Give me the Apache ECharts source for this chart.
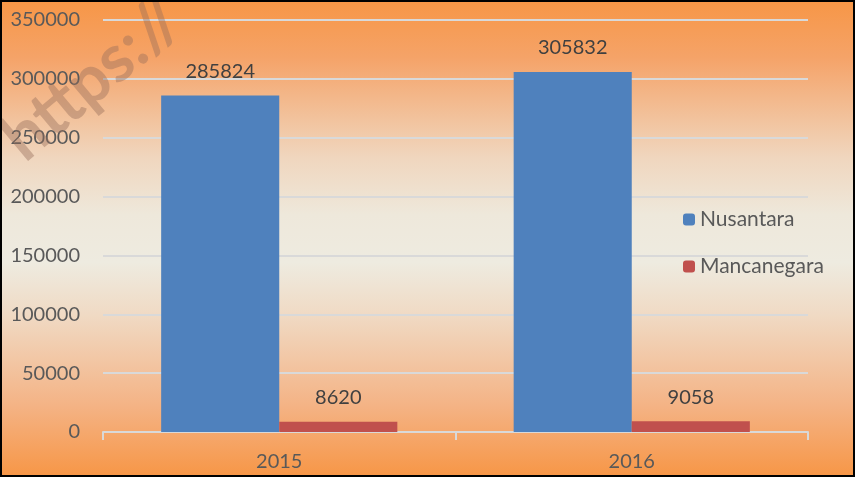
<html lang="en">
<head>
    <meta charset="UTF-8">
    <title>Nusantara vs Mancanegara</title>
    <script src="https://cdn.jsdelivr.net/npm/echarts@6/dist/echarts.min.js"></script>
    <style>
        body { margin: 0; }
        #chart { width: 855px; height: 477px; }
    </style>
</head>
<body>
<div id="chart"></div>
<script type="text/javascript">
    // data
    var years = ['2015', '2016'];
    var nusantara = [285824, 305832];
    var mancanegara = [8620, 9058];

    var myChart = echarts.init(document.getElementById('chart'));

    var txt = '#595959';
    var font = 'Lato';

    var option = {
        backgroundColor: new echarts.graphic.LinearGradient(0, 0, 0, 1, [
            {offset: 0, color: '#F79646'},
            {offset: 0.12, color: '#F5A368'},
            {offset: 0.33, color: '#F0D6BE'},
            {offset: 0.45, color: '#EEE8DB'},
            {offset: 0.55, color: '#EEEBE0'},
            {offset: 0.66, color: '#F0DAC4'},
            {offset: 0.85, color: '#F4B385'},
            {offset: 1, color: '#F79646'}
        ]),
        textStyle: {fontFamily: font},
        grid: {left: 103, right: 47, top: 20, bottom: 45, containLabel: false},
        legend: {
            orient: 'vertical',
            left: 678,
            top: 204,
            itemWidth: 12,
            itemHeight: 12,
            itemGap: 26,
            textStyle: {fontSize: 21, color: txt, fontFamily: font},
            data: ['Nusantara', 'Mancanegara']
        },
        xAxis: {
            type: 'category',
            data: years,
            axisLine: {lineStyle: {color: '#D9D9D9', width: 2}},
            axisTick: {show: true, length: 8, lineStyle: {color: '#D9D9D9', width: 2}},
            axisLabel: {fontSize: 20, color: txt, margin: 20}
        },
        yAxis: {
            type: 'value',
            min: 0,
            max: 350000,
            interval: 50000,
            axisLine: {show: false},
            axisTick: {show: false},
            axisLabel: {
                fontSize: 20, color: txt, margin: 23,
                formatter: function (v) { return String(v); }
            },
            splitLine: {lineStyle: {color: '#D9D9D9', width: 2}}
        },
        series: [
            {
                name: 'Nusantara',
                type: 'bar',
                data: nusantara,
                barGap: '0%',
                barCategoryGap: '33%',
                itemStyle: {color: '#4F81BD'},
                label: {show: true, position: 'top', distance: 14, fontSize: 20, color: '#404040'}
            },
            {
                name: 'Mancanegara',
                type: 'bar',
                data: mancanegara,
                itemStyle: {color: '#C0504D'},
                label: {show: true, position: 'top', distance: 14, fontSize: 20, color: '#404040'}
            }
        ],
        graphic: [
            {
                type: 'text',
                x: -10,
                y: 122,
                rotation: 40 * Math.PI / 180,
                z: 100,
                style: {
                    text: 'https://',
                    fontSize: 66,
                    fontWeight: 'bold',
                    fontFamily: font,
                    fill: 'rgba(150,110,90,0.42)'
                }
            },
            {
                type: 'rect',
                z: 101,
                shape: {x: 1, y: 1, width: 853, height: 475},
                style: {fill: 'none', stroke: '#000', lineWidth: 2}
            }
        ]
    };

    myChart.setOption(option);
</script>
</body>
</html>
